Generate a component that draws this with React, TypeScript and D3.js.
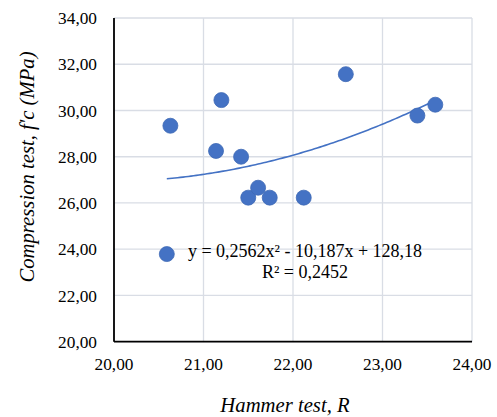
import React from "react";
import * as d3 from "d3";

const hammerR = [20.59, 20.63, 21.14, 21.2, 21.42, 21.5, 21.61, 21.74, 22.12, 22.59, 23.39, 23.59];
const compressionFc = [23.79, 29.34, 28.25, 30.45, 28.0, 26.23, 26.66, 26.23, 26.23, 31.57, 29.78, 30.25];
const xTicks = [20, 21, 22, 23, 24];
const yTicks = [20, 22, 24, 26, 28, 30, 32, 34];
const trendCoefs = [0.2562, -10.187, 128.18];
const eqLines = ["y = 0,2562x² - 10,187x + 128,18", "R² = 0,2452"];

const W = 497, H = 417;
const left = 114, right = 472, top = 18, bottom = 341.7;

export default function App() {
  const x = d3.scaleLinear().domain([20, 24]).range([left, right]);
  const y = d3.scaleLinear().domain([20, 34]).range([bottom, top]);
  const fmt = (v: number) => v.toFixed(2).replace(".", ",");
  const [a, b, c] = trendCoefs;
  const xmin = d3.min(hammerR)!, xmax = d3.max(hammerR)!;
  const pts: [number, number][] = d3.range(0, 101).map((i) => {
    const xv = xmin + ((xmax - xmin) * i) / 100;
    return [xv, a * xv * xv + b * xv + c];
  });
  const line = d3.line<[number, number]>().x((d) => x(d[0])).y((d) => y(d[1]));
  const font = "'Liberation Serif', 'Times New Roman', serif";
  const blue = "#4472C4";
  return (
    <svg width={W} height={H} style={{ position: "absolute", left: 0, top: 0, background: "#fff" }} fontFamily={font}>
      {xTicks.map((t) => (
        <line key={"gx" + t} x1={x(t)} x2={x(t)} y1={top} y2={bottom} stroke="#D9DDE5" strokeWidth={1.3} />
      ))}
      {yTicks.map((t) => (
        <line key={"gy" + t} x1={left} x2={right} y1={y(t)} y2={y(t)} stroke="#D9DDE5" strokeWidth={1.3} />
      ))}
      <line x1={left} x2={left} y1={top} y2={bottom} stroke="#000" strokeWidth={1.8} />
      <line x1={left} x2={right} y1={bottom} y2={bottom} stroke="#000" strokeWidth={1.8} />
      {yTicks.map((t) => (
        <text key={"ty" + t} x={97} y={y(t)} dy="0.35em" textAnchor="end" fontSize={17.3} fill="#000">
          {fmt(t)}
        </text>
      ))}
      {xTicks.map((t) => (
        <text key={"tx" + t} x={x(t)} y={370} textAnchor="middle" fontSize={17.3} fill="#000">
          {fmt(t)}
        </text>
      ))}
      <path d={line(pts) || ""} fill="none" stroke={blue} strokeWidth={1.6} />
      {hammerR.map((xv, i) => (
        <circle key={"p" + i} cx={x(xv)} cy={y(compressionFc[i])} r={7.5} fill={blue} stroke="#3F69B5" strokeWidth={0.8} />
      ))}
      {eqLines.map((s, i) => (
        <text key={"eq" + i} x={305} y={256.7 + i * 21.6} textAnchor="middle" fontSize={18} fill="#000">
          {s}
        </text>
      ))}
      <text x={285} y={411.5} textAnchor="middle" fontSize={20.7} fontStyle="italic" fill="#000">
        Hammer test, R
      </text>
      <text transform={`translate(34,${167}) rotate(-90)`} textAnchor="middle" fontSize={20.7} fontStyle="italic" fill="#000">
        Compression test, f'c (MPa)
      </text>
    </svg>
  );
}
